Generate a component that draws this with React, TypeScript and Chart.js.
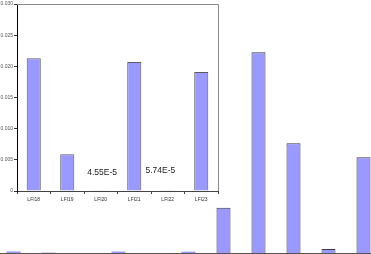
import React, { useEffect, useRef } from "react";
import { Chart, registerables } from "chart.js";

Chart.register(...registerables);

// Inset chart data
const insetCategories = ["LFI18", "LFI19", "LFI20", "LFI21", "LFI22", "LFI23"];
const insetValues = [0.0213, 0.0059, 0.0000455, 0.0207, 0.0000574, 0.0191];
const insetTickStep = 0.005;
const insetMax = 0.03;

// Inset value annotations (text, anchor category index, anchor value)
const annotationLabels = ["4.55E-5", "5.74E-5"];
const annotationX = [2.04, 3.78];
const annotationY = [0.003, 0.0033];

// Background (full) chart data
const mainCategories = ["LFI18", "LFI19", "LFI20", "LFI21", "LFI22", "LFI23", "B7", "B8", "B9", "B10", "B11"];
const mainValues = [0.0213, 0.0059, 0.0000455, 0.0207, 0.0000574, 0.0191, 0.627, 2.776, 1.517, 0.055, 1.324];
const mainMax = 3.5;

const BAR_FILL = "#9999ff";
const FONT = "'Liberation Sans', Arial, sans-serif";

export default function App() {
  const mainRef = useRef<HTMLCanvasElement>(null);
  const insetRef = useRef<HTMLCanvasElement>(null);

  useEffect(() => {
    const baselinePlugin = {
      id: "baseline",
      afterDatasetsDraw(chart: any) {
        const { ctx, scales } = chart;
        const y = Math.round(scales.y.getPixelForValue(0)) + 0.5;
        ctx.save();
        ctx.strokeStyle = "#555555";
        ctx.lineWidth = 1;
        ctx.beginPath();
        ctx.moveTo(0, y);
        ctx.lineTo(chart.width, y);
        ctx.stroke();
        ctx.restore();
      },
    };

    const main = new Chart(mainRef.current!, {
      type: "bar",
      data: {
        labels: mainCategories,
        datasets: [
          {
            data: mainValues,
            backgroundColor: BAR_FILL,
            borderColor: "#3a3a4a",
            borderWidth: (c: any) => {
              const v = c.raw as number;
              const px = c.chart.scales.y
                ? c.chart.scales.y.getPixelForValue(0) - c.chart.scales.y.getPixelForValue(v)
                : 10;
              return px < 2.5 ? 0 : 1;
            },
            barPercentage: 0.4,
            categoryPercentage: 1,
          },
        ],
      },
      options: {
        responsive: false,
        animation: false,
        layout: { padding: { top: 0, bottom: 1, left: 0, right: 0 } },
        plugins: { legend: { display: false }, tooltip: { enabled: false } },
        scales: {
          x: { display: false },
          y: { display: false, min: 0, max: mainMax },
        },
      },
      plugins: [baselinePlugin],
    });

    const insetPlugin = {
      id: "insetDeco",
      beforeDraw(chart: any) {
        const { ctx } = chart;
        ctx.save();
        ctx.fillStyle = "#ffffff";
        ctx.fillRect(0, 0, chart.width, chart.height);
        ctx.restore();
      },
      afterDraw(chart: any) {
        const { ctx, chartArea, scales } = chart;
        ctx.save();
        ctx.strokeStyle = "#8a8a8a";
        ctx.lineWidth = 1;
        ctx.beginPath();
        const t = Math.round(chartArea.top) + 0.5;
        const r = Math.round(chartArea.right) + 0.5;
        ctx.moveTo(chartArea.left, t);
        ctx.lineTo(r, t);
        ctx.lineTo(r, chartArea.bottom);
        ctx.stroke();
        ctx.fillStyle = "#222222";
        ctx.font = `8.5px ${FONT}`;
        ctx.textAlign = "center";
        ctx.textBaseline = "middle";
        annotationLabels.forEach((txt, i) => {
          const x = scales.x.getPixelForValue(annotationX[i]);
          const y = scales.y.getPixelForValue(annotationY[i]);
          ctx.fillText(txt, x, y);
        });
        ctx.restore();
      },
    };

    const inset = new Chart(insetRef.current!, {
      type: "bar",
      data: {
        labels: insetCategories,
        datasets: [
          {
            data: insetValues,
            backgroundColor: BAR_FILL,
            borderColor: "#5a5a66",
            borderWidth: 1,
            barPercentage: 0.42,
            categoryPercentage: 1,
          },
        ],
      },
      options: {
        responsive: false,
        animation: false,
        layout: { padding: { top: 3, right: 3, left: 0, bottom: 0 } },
        plugins: { legend: { display: false }, tooltip: { enabled: false } },
        scales: {
          x: {
            afterFit(s: any) {
              s.height = 14;
            },
            grid: {
              drawOnChartArea: false,
              drawTicks: true,
              tickLength: 3,
              color: "#444444",
              offset: true,
            },
            border: { color: "#444444", width: 1 },
            ticks: {
              color: "#333333",
              font: { size: 5, family: FONT },
              padding: 3,
              maxRotation: 0,
              autoSkip: false,
            },
          },
          y: {
            min: 0,
            max: insetMax,
            afterFit(s: any) {
              s.width = 17;
            },
            grid: {
              drawOnChartArea: false,
              drawTicks: true,
              tickLength: 3,
              color: "#333333",
            },
            border: { color: "#000000", width: 1 },
            ticks: {
              stepSize: insetTickStep,
              color: "#555555",
              font: { size: 5, family: FONT },
              padding: 1,
              callback: (v: any) => (Number(v) === 0 ? "0" : Number(v).toFixed(3)),
            },
          },
        },
      },
      plugins: [insetPlugin],
    });

    return () => {
      main.destroy();
      inset.destroy();
    };
  }, []);

  return (
    <div
      style={{
        position: "absolute",
        left: 0,
        top: 0,
        width: 371,
        height: 254,
        overflow: "hidden",
        background: "#ffffff",
      }}
    >
      <canvas
        ref={mainRef}
        width={385}
        height={254}
        style={{ position: "absolute", left: -4, top: 0, width: 385, height: 254 }}
      />
      <canvas
        ref={insetRef}
        width={221}
        height={205}
        style={{ position: "absolute", left: 0, top: 0, width: 221, height: 205 }}
      />
    </div>
  );
}
